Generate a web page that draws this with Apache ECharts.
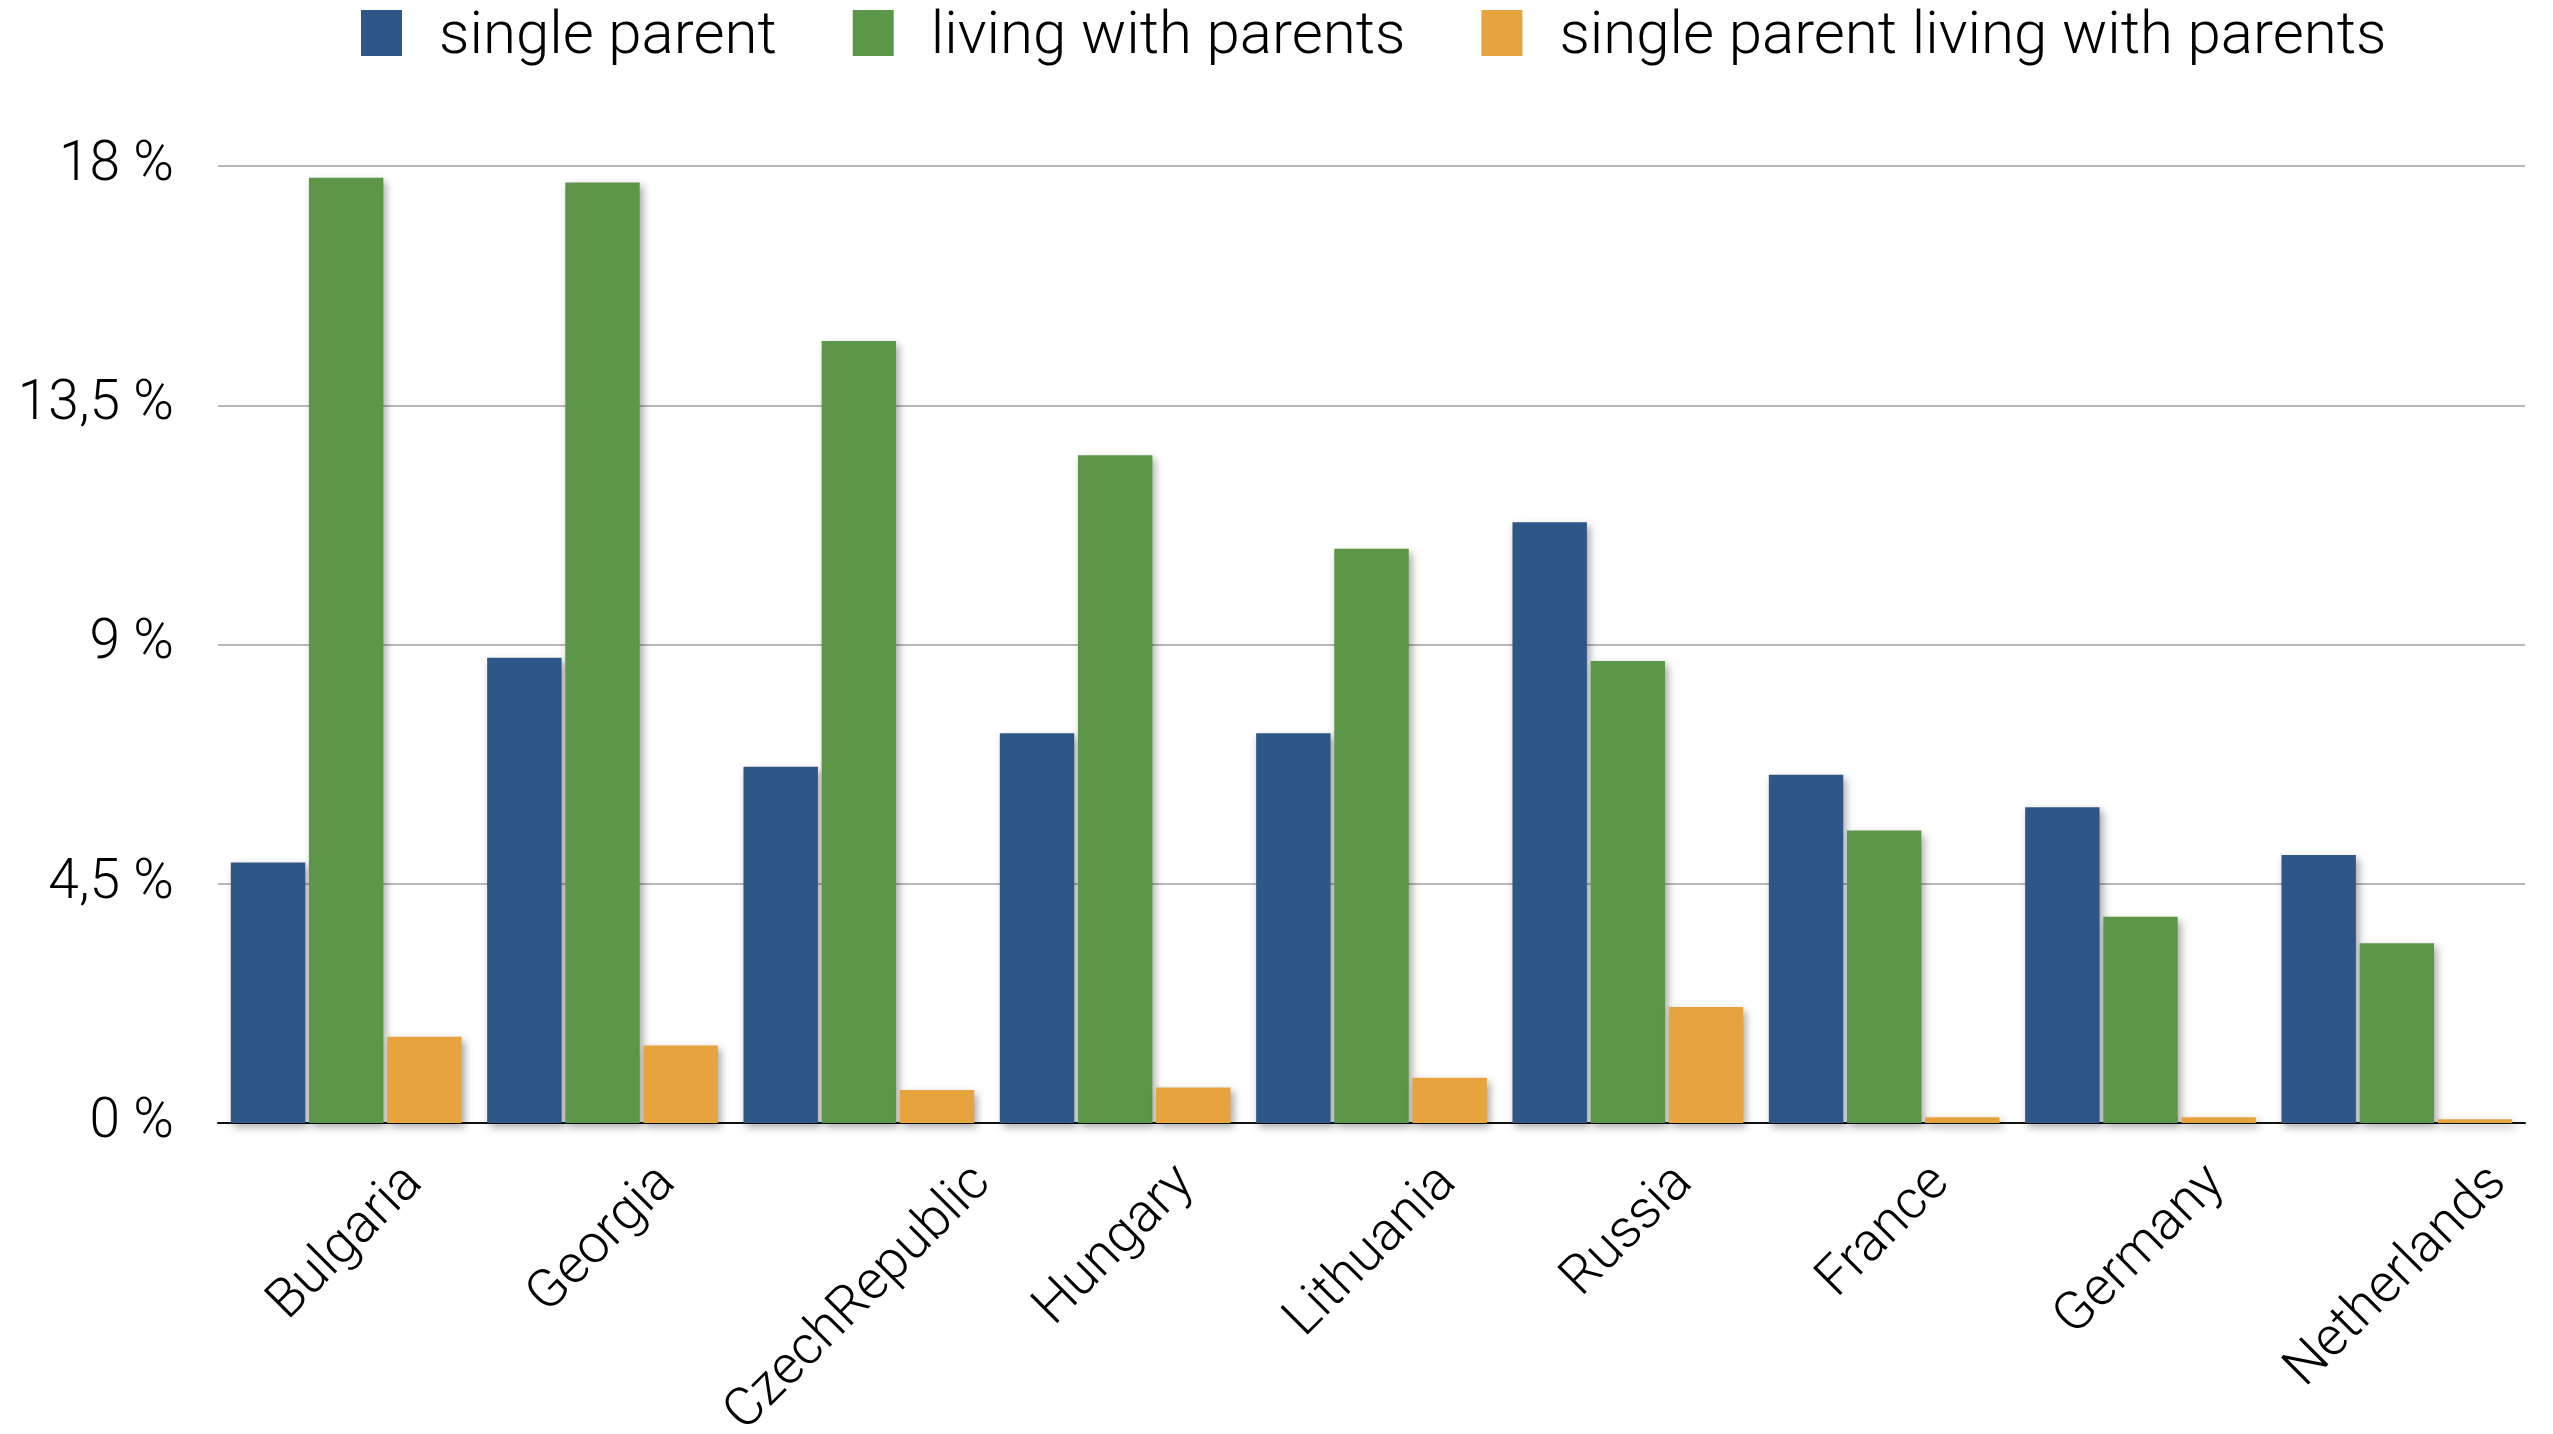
<!DOCTYPE html>
<html>
<head>
<meta charset="utf-8">
<title>Household composition by country</title>
<script src="https://cdn.jsdelivr.net/npm/echarts@6/dist/echarts.min.js"></script>
<style>
  html, body { margin: 0; padding: 0; background: #ffffff; }
  #chart { width: 2553px; height: 1434px; }
</style>
</head>
<body>
<div id="chart"></div>
<script>
// Countries along the x axis
const countries = ['Bulgaria', 'Georgia', 'CzechRepublic', 'Hungary', 'Lithuania', 'Russia', 'France', 'Germany', 'Netherlands'];

// Shares in percent
const singleParent = [4.90, 8.75, 6.70, 7.33, 7.33, 11.30, 6.55, 5.94, 5.04];
const livingWithParents = [17.78, 17.69, 14.71, 12.56, 10.80, 8.69, 5.50, 3.88, 3.38];
const singleParentWithParents = [1.62, 1.46, 0.62, 0.67, 0.85, 2.18, 0.11, 0.11, 0.07];

const seriesNames = ['single parent', 'living with parents', 'single parent living with parents'];
const seriesColors = ['#2E5788', '#5C9649', '#E7A33E'];

// Y axis ticks
const yMin = 0;
const yMax = 18;
const yStep = 4.5;

const FONT = 'Roboto';
const WEIGHT = 300;
const X_LABEL_SIZE = 54;
const X_LABEL_GAP = 52;   // distance from the axis line to the end of each label

const chart = echarts.init(document.getElementById('chart'), null, { renderer: 'canvas' });

const barShadow = {
  shadowColor: 'rgba(0, 0, 0, 0.35)',
  shadowBlur: 8,
  shadowOffsetX: 3,
  shadowOffsetY: 4
};

const seriesData = [singleParent, livingWithParents, singleParentWithParents];

chart.setOption({
  animation: false,
  backgroundColor: '#ffffff',
  textStyle: { fontFamily: FONT, fontWeight: WEIGHT },
  legend: {
    left: 356,
    top: 3,
    itemWidth: 41,
    itemHeight: 46,
    itemGap: 76,
    icon: 'rect',
    formatter: '{t|{name}}',
    textStyle: {
      fontFamily: FONT,
      fontWeight: WEIGHT,
      fontSize: 60,
      color: '#000000',
      padding: [0, 0, 0, 32],
      rich: {
        t: {
          fontFamily: FONT,
          fontWeight: WEIGHT,
          fontSize: 60,
          color: '#000000',
          padding: [10, 0, 0, 0]
        }
      }
    },
    data: seriesNames
  },
  grid: {
    left: 218,
    right: 28,
    top: 166,
    bottom: 311,
    containLabel: false,
    outerBoundsMode: 'none'
  },
  xAxis: {
    type: 'category',
    data: countries,
    axisLine: { show: true, lineStyle: { color: '#111111', width: 2 } },
    axisTick: { show: false },
    axisLabel: { show: false },
    splitLine: { show: false }
  },
  yAxis: {
    type: 'value',
    min: yMin,
    max: yMax,
    interval: yStep,
    axisLine: { show: false },
    axisTick: { show: false },
    axisLabel: {
      margin: 44,
      fontFamily: FONT,
      fontWeight: WEIGHT,
      fontSize: 55,
      color: '#000000',
      padding: [6, 0, 0, 0],
      formatter: function (v) { return String(v).replace('.', ',') + ' %'; }
    },
    splitLine: { show: true, lineStyle: { color: '#B8B8B8', width: 2 } }
  },
  series: seriesNames.map(function (name, i) {
    return {
      name: name,
      type: 'bar',
      data: seriesData[i],
      barGap: '5%',
      barCategoryGap: '10%',
      itemStyle: Object.assign({ color: seriesColors[i] }, barShadow)
    };
  })
});

// Category names, rotated 45°, each centred horizontally on its category
// with the upper end of every label at the same height below the axis.
const measureCtx = document.createElement('canvas').getContext('2d');
measureCtx.font = WEIGHT + ' ' + X_LABEL_SIZE + 'px ' + FONT;
const axisY = chart.convertToPixel({ yAxisIndex: 0 }, 0);
chart.setOption({
  graphic: countries.map(function (name, i) {
    const cx = chart.convertToPixel({ xAxisIndex: 0 }, i);
    const w = measureCtx.measureText(name).width;
    return {
      type: 'text',
      x: cx,
      y: axisY + X_LABEL_GAP + w / (2 * Math.SQRT2),
      rotation: Math.PI / 4,
      silent: true,
      style: {
        text: name,
        fontFamily: FONT,
        fontWeight: WEIGHT,
        fontSize: X_LABEL_SIZE,
        fill: '#000000',
        align: 'center',
        verticalAlign: 'middle'
      }
    };
  })
});
</script>
</body>
</html>
